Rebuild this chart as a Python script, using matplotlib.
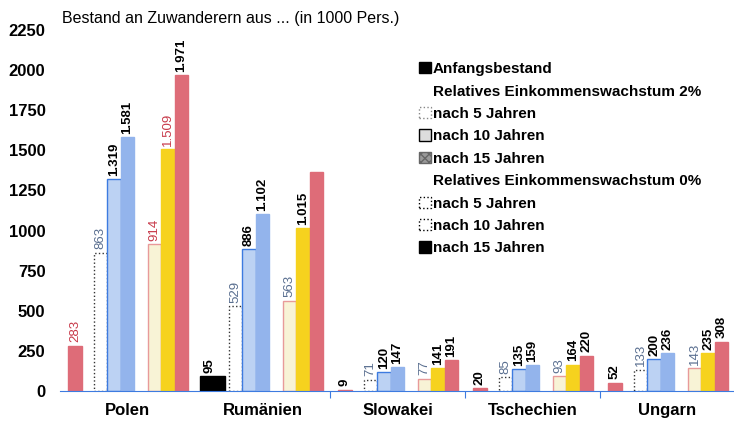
import matplotlib
matplotlib.use("Agg")
import matplotlib.pyplot as plt
import numpy as np
from matplotlib.patches import Patch

plt.rcParams['font.family'] = ['Liberation Sans', 'DejaVu Sans']

countries = ['Polen', 'Rumänien', 'Slowakei', 'Tschechien', 'Ungarn']
anfang = [283, 95, 9, 20, 52]
w2_5 = [863, 529, 71, 85, 133]
w2_10 = [1319, 886, 120, 135, 200]
w2_15 = [1581, 1102, 147, 159, 236]
w0_5 = [914, 563, 77, 93, 143]
w0_10 = [1509, 1015, 141, 164, 235]
w0_15 = [1971, 1366, 191, 220, 308]
yticks = [0, 250, 500, 750, 1000, 1250, 1500, 1750, 2000, 2250]


def fmt(v):
    return f"{v:,}".replace(",", ".")


fig = plt.figure(figsize=(7.34, 4.30), dpi=100)
ax = fig.add_axes([60 / 734, 39 / 430, 675 / 734, 361 / 430])

x = np.arange(len(countries))
bw = 0.1
red = '#de6c78'
blue_edge = '#3d7be0'
grey_blue = '#5a6f90'

# (values, offset, face, edge, linestyle, label colour, label weight)
series = [
    (anfang, 0.11, red, red, '-', 'black', 'bold'),
    (w2_5, 0.30, 'white', '#333333', ':', grey_blue, 'normal'),
    (w2_10, 0.40, '#bcd2f3', blue_edge, '-', 'black', 'bold'),
    (w2_15, 0.50, '#93b4ec', '#93b4ec', '-', 'black', 'bold'),
    (w0_5, 0.70, '#f8f3d6', '#e89a9a', '-', grey_blue, 'normal'),
    (w0_10, 0.80, '#f6d21e', '#f6d21e', '-', 'black', 'bold'),
    (w0_15, 0.90, red, red, '-', 'black', 'bold'),
]

# a few labels in the Polen group are printed in red
red_labels = {(0, 0), (4, 0), (5, 0)}

for k, (vals, off, face, edge, ls, lc, lw) in enumerate(series):
    bars = ax.bar(x + off, vals, width=bw, color=face, edgecolor=edge,
                  linestyle=ls, linewidth=1.0)
    for i, (b, v) in enumerate(zip(bars, vals)):
        if k == 6 and i == 1:
            continue
        c, wgt = lc, lw
        if (k, i) in red_labels:
            c, wgt = '#c83a4a', 'normal'
        ax.text(b.get_x() + b.get_width() / 2, v + 20, fmt(v), rotation=90,
                ha='center', va='bottom', fontsize=9.5, color=c,
                fontweight=wgt)

# Rumänien's initial stock is printed in black
ax.patches[1].set_facecolor('black')
ax.patches[1].set_edgecolor('black')
ax.patches[1].set_width(0.18)
ax.patches[1].set_x(1.04)

ax.set_xlim(0, 5)
ax.set_ylim(0, 2250)
ax.set_yticks(yticks)
ax.set_yticklabels([str(t) for t in yticks], fontsize=12, fontweight='bold')
ax.tick_params(axis='y', length=0, pad=10.5)
ax.set_xticks([2, 3, 4])
ax.set_xticklabels([])
ax.tick_params(axis='x', length=5, color=blue_edge, direction='out')
for i, c in enumerate(countries):
    ax.text(i + 0.5, -75, c, ha='center', va='top', fontsize=12,
            fontweight='bold')

for s in ['top', 'right', 'left']:
    ax.spines[s].set_visible(False)
ax.spines['bottom'].set_color(blue_edge)

fig.text(62 / 734, 1 - 18 / 430, 'Bestand an Zuwanderern aus ... (in 1000 Pers.)',
         fontsize=11.5, va='center', ha='left')

blank = Patch(facecolor='none', edgecolor='none')
handles = [
    Patch(facecolor='black', edgecolor='black'),
    blank,
    Patch(facecolor='white', edgecolor='#888888', linestyle=':'),
    Patch(facecolor='#dddddd', edgecolor='black'),
    Patch(facecolor='#999999', edgecolor='#666666', hatch='xxxx'),
    blank,
    Patch(facecolor='white', edgecolor='black', linestyle=':'),
    Patch(facecolor='white', edgecolor='black', linestyle=':'),
    Patch(facecolor='black', edgecolor='black'),
]
labels = ['Anfangsbestand', 'Relatives Einkommenswachstum 2%', 'nach 5 Jahren',
          'nach 10 Jahren', 'nach 15 Jahren', 'Relatives Einkommenswachstum 0%',
          'nach 5 Jahren', 'nach 10 Jahren', 'nach 15 Jahren']
leg = fig.legend(handles, labels, loc='upper left',
                 bbox_to_anchor=(413 / 734, 1 - 56 / 430), frameon=False,
                 prop={'size': 11, 'weight': 'bold'}, handlelength=0.75,
                 handleheight=0.75, handletextpad=0.15, labelspacing=0.55,
                 borderaxespad=0)

fig.savefig('out.png', dpi=100)
